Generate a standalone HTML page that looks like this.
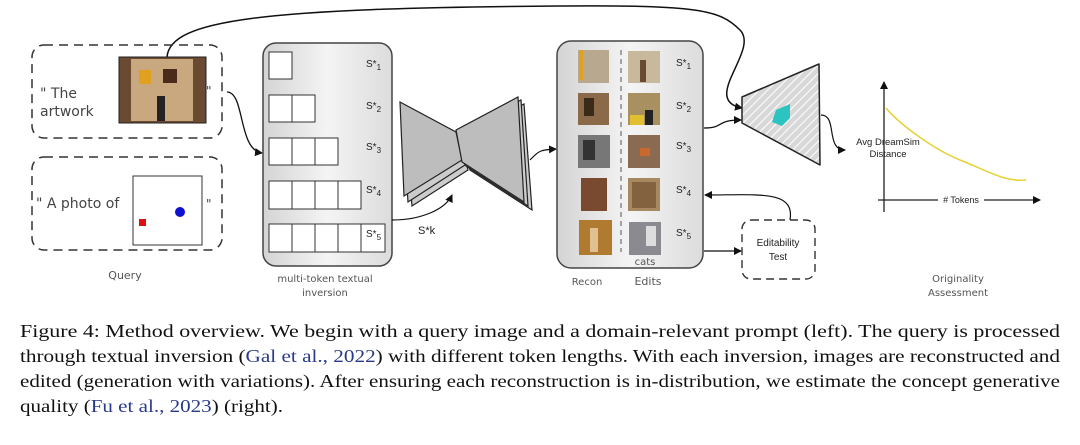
<!DOCTYPE html>
<html><head><meta charset="utf-8"><style>
html,body{margin:0;padding:0;background:#fff;}
svg{display:block;}
.hand{font-family:"Comic Sans MS","DejaVu Sans",sans-serif;}
</style></head><body>
<svg width="1080" height="445" viewBox="0 0 1080 445" xmlns="http://www.w3.org/2000/svg">
<defs>
<marker id="ah" markerWidth="8" markerHeight="8" refX="7" refY="4" orient="auto" markerUnits="userSpaceOnUse"><path d="M0,0 L8,4 L0,8 z" fill="#111"/></marker>
<linearGradient id="pg" x1="0" x2="1" y1="0" y2="0"><stop offset="0" stop-color="#d4d4d4"/><stop offset="0.5" stop-color="#f4f4f4"/><stop offset="1" stop-color="#dcdcdc"/></linearGradient>
<pattern id="hatch" width="6" height="6" patternUnits="userSpaceOnUse" patternTransform="rotate(45)"><rect width="6" height="6" fill="#d8d8d8"/><line x1="0" y1="0" x2="0" y2="6" stroke="#fff" stroke-width="2"/></pattern>
</defs>

<!-- top arc -->
<path d="M167,57 C170,20 260,8 560,6 C700,5 720,10 740,30 C760,50 700,100 742,108" fill="none" stroke="#111" stroke-width="1.5" marker-end="url(#ah)"/>

<!-- Query boxes -->
<rect x="32" y="45" width="190" height="93" rx="12" fill="none" stroke="#333" stroke-width="1.5" stroke-dasharray="9,6"/>
<rect x="32" y="157" width="190" height="93" rx="12" fill="none" stroke="#333" stroke-width="1.5" stroke-dasharray="9,6"/>
<text x="40" y="98" class="hand" font-size="14" fill="#444">" The</text>
<text x="40" y="116" class="hand" font-size="14" fill="#444">artwork</text>
<text x="206" y="95" class="hand" font-size="12" fill="#444">"</text>
<rect x="119" y="57" width="87" height="66" fill="#6a4a30" stroke="#222"/>
<rect x="131" y="59" width="62" height="62" fill="#c9a880"/>
<rect x="139" y="70" width="12" height="14" fill="#e0a020"/>
<rect x="163" y="69" width="14" height="14" fill="#4a2a1a"/>
<rect x="157" y="96" width="8" height="25" fill="#222"/>
<text x="36" y="208" class="hand" font-size="14" fill="#444">" A photo of</text>
<text x="206" y="208" class="hand" font-size="12" fill="#444">"</text>
<rect x="133" y="176" width="69" height="69" fill="#fff" stroke="#333"/>
<rect x="139" y="219" width="7" height="7" fill="#e01010"/>
<circle cx="180" cy="212" r="5" fill="#1010d0"/>
<text x="125" y="279" class="hand" font-size="11" fill="#555" text-anchor="middle">Query</text>

<!-- arrow query -> inversion -->
<path d="M227,92 C245,92 238,150 262,153" fill="none" stroke="#111" stroke-width="1.3" marker-end="url(#ah)"/>

<!-- inversion panel -->
<rect x="263" y="43" width="129" height="223" rx="13" fill="url(#pg)" stroke="#444" stroke-width="1.5"/>
<g fill="#fff" stroke="#333" stroke-width="1">
<rect x="269" y="52" width="23" height="27"/>
<rect x="269" y="95" width="23" height="27"/><rect x="292" y="95" width="23" height="27"/>
<rect x="269" y="138" width="23" height="27"/><rect x="292" y="138" width="23" height="27"/><rect x="315" y="138" width="23" height="27"/>
<rect x="269" y="181" width="23" height="28"/><rect x="292" y="181" width="23" height="28"/><rect x="315" y="181" width="23" height="28"/><rect x="338" y="181" width="23" height="28"/>
<rect x="269" y="224" width="23" height="28"/><rect x="292" y="224" width="23" height="28"/><rect x="315" y="224" width="23" height="28"/><rect x="338" y="224" width="23" height="28"/><rect x="361" y="224" width="24" height="28"/>
</g>
<g font-family="Liberation Sans,sans-serif" font-size="10" fill="#222">
<text x="366" y="67">S*<tspan font-size="8" dy="3">1</tspan></text>
<text x="366" y="109">S*<tspan font-size="8" dy="3">2</tspan></text>
<text x="366" y="150">S*<tspan font-size="8" dy="3">3</tspan></text>
<text x="366" y="193">S*<tspan font-size="8" dy="3">4</tspan></text>
<text x="366" y="237">S*<tspan font-size="8" dy="3">5</tspan></text>
<text x="418" y="234" font-size="11">S*k</text>
</g>
<text x="325" y="282" class="hand" font-size="10" fill="#555" text-anchor="middle">multi-token textual</text>
<text x="325" y="296" class="hand" font-size="10" fill="#555" text-anchor="middle">inversion</text>

<!-- S*k connector -->
<path d="M392,220 C420,220 445,210 452,195" fill="none" stroke="#111" stroke-width="1.2" marker-end="url(#ah)"/>

<!-- bowtie -->
<g stroke="#222" stroke-width="1.2" fill="#bdbdbd">
<path d="M404,112 L460,140 L468,170 L412,206 Z" fill="#ccc"/>
<path d="M402,108 L458,136 L465,165 L408,202 Z" fill="#ccc"/>
<path d="M400,102 L456,132 L462,160 L404,196 Z"/>
<path d="M462,136 L524,104 L532,210 L470,170 Z" fill="#ccc"/>
<path d="M459,132 L521,100 L528,206 L466,166 Z" fill="#ccc"/>
<path d="M456,130 L518,97 L524,202 L462,162 Z"/>
</g>
<path d="M530,160 C540,150 540,150 556,149" fill="none" stroke="#111" stroke-width="1.2" marker-end="url(#ah)"/>

<!-- recon panel -->
<rect x="557" y="41" width="146" height="227" rx="14" fill="url(#pg)" stroke="#444" stroke-width="1.5"/>
<line x1="621" y1="50" x2="621" y2="252" stroke="#555" stroke-dasharray="5,4"/>
<g>
<rect x="578" y="50" width="31" height="33" fill="#b8a890"/><rect x="579" y="50" width="4" height="30" fill="#e0a020"/>
<rect x="628" y="51" width="32" height="32" fill="#c8b89c"/><rect x="640" y="60" width="6" height="22" fill="#6a4a30"/>
<rect x="578" y="93" width="31" height="32" fill="#8a6a48"/><rect x="584" y="98" width="10" height="18" fill="#3a2a1a"/>
<rect x="628" y="93" width="32" height="32" fill="#a89060"/><rect x="630" y="115" width="14" height="10" fill="#e0c030"/><rect x="645" y="110" width="8" height="15" fill="#222"/>
<rect x="578" y="135" width="32" height="33" fill="#777"/><rect x="583" y="140" width="12" height="20" fill="#333"/>
<rect x="628" y="135" width="32" height="33" fill="#8a6a50"/><rect x="640" y="148" width="10" height="8" fill="#c86a30"/>
<rect x="581" y="178" width="26" height="33" fill="#7a4a30"/>
<rect x="628" y="178" width="32" height="33" fill="#a88860"/><rect x="632" y="182" width="24" height="26" fill="#6a4a2a" opacity="0.6"/>
<rect x="579" y="220" width="33" height="35" fill="#b07a30"/><rect x="590" y="228" width="8" height="24" fill="#e0c090"/>
<rect x="629" y="222" width="32" height="33" fill="#8a8a90"/><rect x="646" y="226" width="10" height="20" fill="#ddd"/>
</g>
<g font-family="Liberation Sans,sans-serif" font-size="10" fill="#222">
<text x="676" y="66">S*<tspan font-size="8" dy="3">1</tspan></text>
<text x="676" y="109">S*<tspan font-size="8" dy="3">2</tspan></text>
<text x="676" y="149">S*<tspan font-size="8" dy="3">3</tspan></text>
<text x="676" y="193">S*<tspan font-size="8" dy="3">4</tspan></text>
<text x="676" y="236">S*<tspan font-size="8" dy="3">5</tspan></text>
</g>
<text x="645" y="265" class="hand" font-size="10" fill="#555" text-anchor="middle">cats</text>
<text x="587" y="285" class="hand" font-size="10" fill="#555" text-anchor="middle">Recon</text>
<text x="648" y="285" class="hand" font-size="11" fill="#555" text-anchor="middle">Edits</text>

<!-- connectors recon -> trapezoid, editability -->
<path d="M704,128 C725,128 715,120 741,120" fill="none" stroke="#111" stroke-width="1.2" marker-end="url(#ah)"/>
<path d="M704,251 L741,251" fill="none" stroke="#111" stroke-width="1.2" marker-end="url(#ah)"/>
<path d="M790,220 C795,190 760,195 705,195" fill="none" stroke="#111" stroke-width="1.2" marker-end="url(#ah)"/>

<!-- trapezoid -->
<path d="M742,97 L819,64 L820,165 L742,123 Z" fill="url(#hatch)" stroke="#222" stroke-width="1.5" stroke-linejoin="round"/>
<path d="M776,110 L790,104 L790,118 L782,126 L772,122 Z" fill="#2bc4c0"/>
<path d="M821,115 C838,115 825,150 845,150" fill="none" stroke="#111" stroke-width="1.2" marker-end="url(#ah)"/>

<!-- editability box -->
<rect x="742" y="220" width="73" height="59" rx="9" fill="none" stroke="#333" stroke-width="1.4" stroke-dasharray="8,5"/>
<text x="778" y="246" font-family="Liberation Sans,sans-serif" font-size="10" fill="#222" text-anchor="middle">Editability</text>
<text x="778" y="260" font-family="Liberation Sans,sans-serif" font-size="10" fill="#222" text-anchor="middle">Test</text>

<!-- chart -->
<line x1="884" y1="212" x2="884" y2="82" stroke="#222" stroke-width="1.3" marker-end="url(#ah)"/>
<line x1="878" y1="200" x2="1040" y2="200" stroke="#222" stroke-width="1.3" marker-end="url(#ah)"/>
<path d="M886,108 C900,125 935,150 960,160 C990,172 1005,182 1026,180" fill="none" stroke="#e6d23a" stroke-width="1.6"/>
<rect x="938" y="193" width="46" height="12" fill="#fff"/>
<text x="961" y="203" font-family="Liberation Sans,sans-serif" font-size="9" fill="#222" text-anchor="middle"># Tokens</text>
<text x="888" y="145" font-family="Liberation Sans,sans-serif" font-size="9.5" fill="#222" text-anchor="middle">Avg DreamSim</text>
<text x="888" y="157" font-family="Liberation Sans,sans-serif" font-size="9.5" fill="#222" text-anchor="middle">Distance</text>
<text x="958" y="282" class="hand" font-size="10" fill="#555" text-anchor="middle">Originality</text>
<text x="958" y="296" class="hand" font-size="10" fill="#555" text-anchor="middle">Assessment</text>

<!-- caption -->
<g font-family="Liberation Serif,serif" font-size="17.5" fill="#111">
<text x="20" y="337" textLength="1040" lengthAdjust="spacingAndGlyphs">Figure 4: Method overview. We begin with a query image and a domain-relevant prompt (left). The query is processed</text>
<text x="20" y="362" textLength="1040" lengthAdjust="spacingAndGlyphs">through textual inversion (<tspan fill="#2a3a8a">Gal et al., 2022</tspan>) with different token lengths. With each inversion, images are reconstructed and</text>
<text x="20" y="387" textLength="1040" lengthAdjust="spacingAndGlyphs">edited (generation with variations). After ensuring each reconstruction is in-distribution, we estimate the concept generative</text>
<text x="20" y="412" textLength="263" lengthAdjust="spacingAndGlyphs">quality (<tspan fill="#2a3a8a">Fu et al., 2023</tspan>) (right).</text>
</g>
</svg>
</body></html>
